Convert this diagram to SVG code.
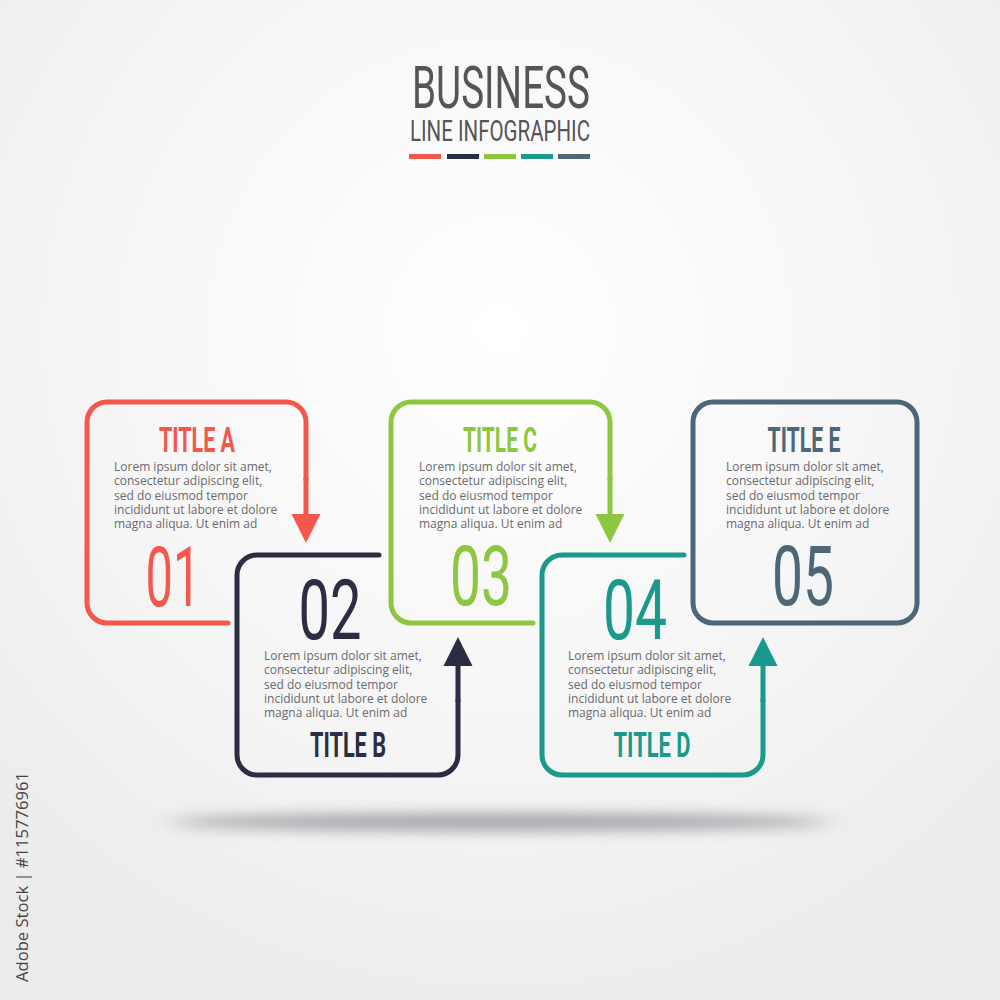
<svg xmlns="http://www.w3.org/2000/svg" width="1000" height="1000" viewBox="0 0 1000 1000">
<defs>
<radialGradient id="bg" cx="500" cy="330" r="700" gradientUnits="userSpaceOnUse">
<stop offset="0" stop-color="#ffffff"/>
<stop offset="0.6" stop-color="#f5f5f6"/>
<stop offset="1" stop-color="#ececed"/>
</radialGradient>
<filter id="blur" x="-50%" y="-300%" width="200%" height="700%"><feGaussianBlur stdDeviation="14 7"/></filter>
<marker id="mA" markerUnits="userSpaceOnUse" markerWidth="30" markerHeight="30" viewBox="0 0 30 30" refX="0" refY="15" orient="auto"><path d="M0,0.5 L29,15 L0,29.5 Z" fill="#f4574b"/></marker>
<marker id="mB" markerUnits="userSpaceOnUse" markerWidth="30" markerHeight="30" viewBox="0 0 30 30" refX="0" refY="15" orient="auto"><path d="M0,0.5 L29,15 L0,29.5 Z" fill="#2b2d42"/></marker>
<marker id="mC" markerUnits="userSpaceOnUse" markerWidth="30" markerHeight="30" viewBox="0 0 30 30" refX="0" refY="15" orient="auto"><path d="M0,0.5 L29,15 L0,29.5 Z" fill="#8dc63f"/></marker>
<marker id="mD" markerUnits="userSpaceOnUse" markerWidth="30" markerHeight="30" viewBox="0 0 30 30" refX="0" refY="15" orient="auto"><path d="M0,0.5 L29,15 L0,29.5 Z" fill="#1b998a"/></marker>
</defs>
<style>
.ol{fill:none;stroke-width:5;stroke-linecap:round;stroke-linejoin:round}
.cn{fill:none;stroke-width:5}
.ttl{font-family:Roboto,"Liberation Sans",sans-serif;font-weight:700;font-size:35px;text-anchor:middle}
.num{font-family:Roboto,"Liberation Sans",sans-serif;font-weight:400;font-size:84px;text-anchor:middle}
.body{font-family:"Open Sans","Liberation Sans",sans-serif;font-size:12px;fill:#6a6a6d}
.hd{font-family:Roboto,"Liberation Sans",sans-serif;font-weight:400;fill:#555557}
.a{stroke:#f4574b}.b{stroke:#2b2d42}.c{stroke:#8dc63f}.d{stroke:#1b998a}.e{stroke:#4e6777}
.fa{fill:#f4574b}.fb{fill:#2b2d42}.fc{fill:#8dc63f}.fd{fill:#1b998a}.fe{fill:#4e6777}
</style>
<rect width="1000" height="1000" fill="url(#bg)"/>
<ellipse cx="500" cy="822" rx="330" ry="9" fill="#8a8c90" opacity="0.75" filter="url(#blur)"/>

<g id="header">
<text class="hd" x="501" y="108" font-size="60" text-anchor="middle" textLength="178" lengthAdjust="spacingAndGlyphs">BUSINESS</text>
<text class="hd" x="500" y="141" font-size="29" font-weight="500" text-anchor="middle" textLength="180" lengthAdjust="spacingAndGlyphs">LINE INFOGRAPHIC</text>
<rect x="409" y="154" width="32" height="5" class="fa"/>
<rect x="447" y="154" width="32" height="5" class="fb"/>
<rect x="484" y="154" width="32" height="5" class="fc"/>
<rect x="521" y="154" width="32" height="5" class="fd"/>
<rect x="558" y="154" width="32" height="5" class="fe"/>
</g>

<g id="node-a">
<path class="ol a" d="M228,623 H107 A20,20 0 0 1 87,603 V422 A20,20 0 0 1 107,402 H286 A20,20 0 0 1 306,422 V480"/>
<text class="ttl fa" x="197" y="452" textLength="76" lengthAdjust="spacingAndGlyphs">TITLE A</text>
<text class="body" x="114" y="471">Lorem ipsum dolor sit amet,</text>
<text class="body" x="114" y="485.3">consectetur adipiscing elit,</text>
<text class="body" x="114" y="499.6">sed do eiusmod tempor</text>
<text class="body" x="114" y="513.9">incididunt ut labore et dolore</text>
<text class="body" x="114" y="528.2">magna aliqua. Ut enim ad</text>
<text class="num fa" x="173" y="606" textLength="55" lengthAdjust="spacingAndGlyphs">01</text>
</g>

<g id="node-b">
<path class="ol b" d="M379,555 H257 A20,20 0 0 0 237,575 V755 A20,20 0 0 0 257,775 H438 A20,20 0 0 0 458,755 V700"/>
<text class="num fb" x="330" y="639" textLength="63" lengthAdjust="spacingAndGlyphs">02</text>
<text class="body" x="264" y="660">Lorem ipsum dolor sit amet,</text>
<text class="body" x="264" y="674.3">consectetur adipiscing elit,</text>
<text class="body" x="264" y="688.6">sed do eiusmod tempor</text>
<text class="body" x="264" y="702.9">incididunt ut labore et dolore</text>
<text class="body" x="264" y="717.2">magna aliqua. Ut enim ad</text>
<text class="ttl fb" x="348" y="757" textLength="76" lengthAdjust="spacingAndGlyphs">TITLE B</text>
</g>

<g id="node-c">
<path class="ol c" d="M533,623 H411 A20,20 0 0 1 391,603 V422 A20,20 0 0 1 411,402 H590 A20,20 0 0 1 610,422 V480"/>
<text class="ttl fc" x="500" y="452" textLength="74" lengthAdjust="spacingAndGlyphs">TITLE C</text>
<text class="body" x="419" y="471">Lorem ipsum dolor sit amet,</text>
<text class="body" x="419" y="485.3">consectetur adipiscing elit,</text>
<text class="body" x="419" y="499.6">sed do eiusmod tempor</text>
<text class="body" x="419" y="513.9">incididunt ut labore et dolore</text>
<text class="body" x="419" y="528.2">magna aliqua. Ut enim ad</text>
<text class="num fc" x="481" y="605" textLength="62" lengthAdjust="spacingAndGlyphs">03</text>
</g>

<g id="node-d">
<path class="ol d" d="M684,555 H562 A20,20 0 0 0 542,575 V755 A20,20 0 0 0 562,775 H743 A20,20 0 0 0 763,755 V700"/>
<text class="num fd" x="635" y="639" textLength="64" lengthAdjust="spacingAndGlyphs">04</text>
<text class="body" x="568" y="660">Lorem ipsum dolor sit amet,</text>
<text class="body" x="568" y="674.3">consectetur adipiscing elit,</text>
<text class="body" x="568" y="688.6">sed do eiusmod tempor</text>
<text class="body" x="568" y="702.9">incididunt ut labore et dolore</text>
<text class="body" x="568" y="717.2">magna aliqua. Ut enim ad</text>
<text class="ttl fd" x="652" y="757" textLength="77" lengthAdjust="spacingAndGlyphs">TITLE D</text>
</g>

<g id="node-e">
<rect class="ol e" x="693" y="402" width="224" height="221" rx="20"/>
<text class="ttl fe" x="804" y="452" textLength="73" lengthAdjust="spacingAndGlyphs">TITLE E</text>
<text class="body" x="726" y="471">Lorem ipsum dolor sit amet,</text>
<text class="body" x="726" y="485.3">consectetur adipiscing elit,</text>
<text class="body" x="726" y="499.6">sed do eiusmod tempor</text>
<text class="body" x="726" y="513.9">incididunt ut labore et dolore</text>
<text class="body" x="726" y="528.2">magna aliqua. Ut enim ad</text>
<text class="num fe" x="803" y="605" textLength="62" lengthAdjust="spacingAndGlyphs">05</text>
</g>

<g id="connectors">
<path class="cn a" d="M306,478 V514" marker-end="url(#mA)"/>
<path class="cn b" d="M458,702 V666" marker-end="url(#mB)"/>
<path class="cn c" d="M610,478 V514" marker-end="url(#mC)"/>
<path class="cn d" d="M763,702 V666" marker-end="url(#mD)"/>
</g>

<text x="28" y="982" transform="rotate(-90 28 982)" font-family="'Open Sans','Liberation Sans',sans-serif" font-size="16" fill="#454547" textLength="210" lengthAdjust="spacingAndGlyphs">Adobe Stock | #115776961</text>
</svg>
